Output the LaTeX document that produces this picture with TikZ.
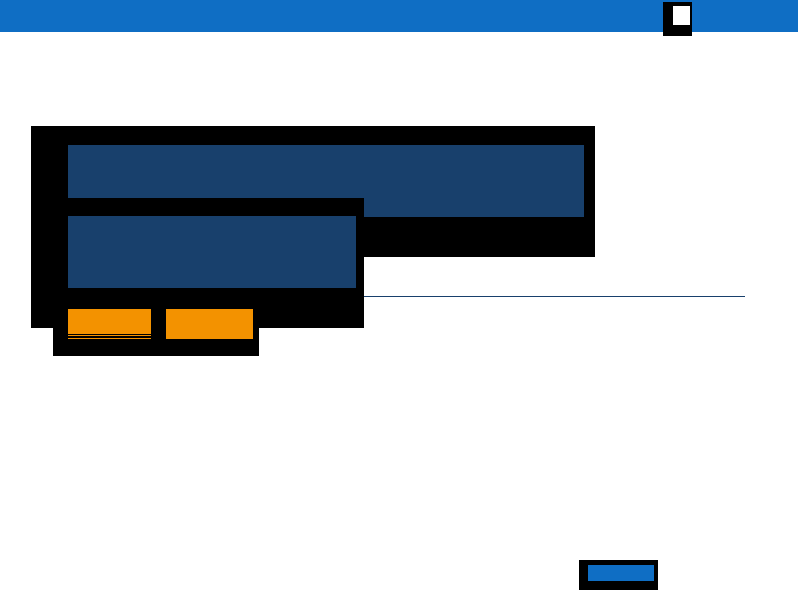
\documentclass[tikz,border=0pt]{standalone}
\usepackage{tikz}
\definecolor{barblue}{RGB}{15,110,196}
\definecolor{navy}{RGB}{24,64,108}
\definecolor{orng}{RGB}{243,146,0}
\tikzset{
  blk/.style={fill=black,draw=none},
  pane/.style={fill=navy,draw=none},
  btn/.style={fill=orng,draw=none},
  box/.style={inner sep=0pt,outer sep=0pt,anchor=north west,draw=none},
}
\begin{document}
\begin{tikzpicture}[x=1pt,y=-1pt]
\useasboundingbox[fill=white] (0,0) rectangle (800,600);
% top bar
\fill[barblue] (0,0) rectangle (798,32);
\fill[blk] (663,2) rectangle (692,36);
\node[box,fill=white,minimum width=17pt,minimum height=19pt] (icon) at (673,6) {};
% main black panel
\node[box,fill=black,minimum width=564pt,minimum height=131pt] (panelA) at (31,126) {};
\node[box,pane,minimum width=516pt,minimum height=72pt] (paneA) at (68,145) {};
% second panel
\node[box,fill=black,minimum width=333pt,minimum height=130pt] (panelB) at (31,198) {};
\node[box,fill=black,minimum width=206pt,minimum height=28pt] (panelC) at (53,328) {};
\node[box,pane,minimum width=288pt,minimum height=72pt] (paneB) at (68,216) {};
% orange buttons
\node[box,btn,minimum width=83pt,minimum height=25pt] (or1) at (68,309) {};
\fill[orng] (68,335) rectangle (151,336);
\fill[orng] (68,338) rectangle (151,339);
\node[box,btn,minimum width=87pt,minimum height=30pt] (or2) at (166,309) {};
% line
\coordinate (l1) at (364,296);
\coordinate (l2) at (745,296);
\draw[navy,line width=1pt] (l1) -- (l2);
% bottom button
\node[box,fill=black,minimum width=79pt,minimum height=30pt] (bb) at (579,560) {};
\node[box,fill=barblue,minimum width=66pt,minimum height=16pt] (bbi) at (588,565) {};
\end{tikzpicture}
\end{document}
